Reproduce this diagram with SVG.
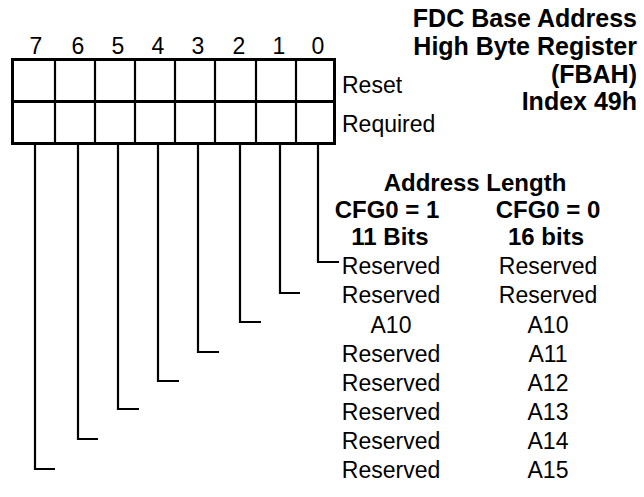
<svg xmlns="http://www.w3.org/2000/svg" width="644" height="497" viewBox="0 0 644 497">
<style>
text{font-family:"Liberation Sans",Arial,sans-serif;font-size:23px;fill:#000}
.b{font-weight:bold;font-size:24px}
.t{font-size:25px}
.m{text-anchor:middle}
.e{text-anchor:end}
.box{fill:none;stroke:#000;stroke-width:3}
.div{stroke:#000;stroke-width:2.2}
.con{fill:none;stroke:#000;stroke-width:2.2}
</style>
<rect width="644" height="497" fill="#fff"/>
<g id="title">
<text class="b t e" x="637" y="27">FDC Base Address</text>
<text class="b t e" x="637" y="55">High Byte Register</text>
<text class="b t e" x="637" y="83">(FBAH)</text>
<text class="b t e" x="637" y="110">Index 49h</text>
</g>
<g id="bitnumbers">
<text class="m" x="36" y="54">7</text>
<text class="m" x="78" y="54">6</text>
<text class="m" x="118" y="54">5</text>
<text class="m" x="158" y="54">4</text>
<text class="m" x="198" y="54">3</text>
<text class="m" x="239" y="54">2</text>
<text class="m" x="279" y="54">1</text>
<text class="m" x="318" y="54">0</text>
</g>
<g id="register">
<rect class="box" x="12.5" y="59.5" width="322" height="84"/>
<line class="box" x1="12.5" y1="101.5" x2="334.5" y2="101.5"/>
<line class="div" x1="55" y1="59.5" x2="55" y2="143.5"/>
<line class="div" x1="95" y1="59.5" x2="95" y2="143.5"/>
<line class="div" x1="135" y1="59.5" x2="135" y2="143.5"/>
<line class="div" x1="175" y1="59.5" x2="175" y2="143.5"/>
<line class="div" x1="215" y1="59.5" x2="215" y2="143.5"/>
<line class="div" x1="256" y1="59.5" x2="256" y2="143.5"/>
<line class="div" x1="296" y1="59.5" x2="296" y2="143.5"/>
<text x="342" y="93">Reset</text>
<text x="342" y="132">Required</text>
</g>
<g id="connectors">
<polyline class="con" points="318,143 318,262 339,262"/>
<polyline class="con" points="280,143 280,293 300,293"/>
<polyline class="con" points="240,143 240,322 261,322"/>
<polyline class="con" points="198,143 198,352 219,352"/>
<polyline class="con" points="158,143 158,381 179,381"/>
<polyline class="con" points="118,143 118,409 139,409"/>
<polyline class="con" points="78,143 78,439 98,439"/>
<polyline class="con" points="35,143 35,469 55,469"/>
</g>
<g id="header">
<text class="b m" x="475" y="191">Address Length</text>
<text class="b m" x="387" y="218">CFG0 = 1</text>
<text class="b m" x="548" y="218">CFG0 = 0</text>
<text class="b m" x="390" y="245">11 Bits</text>
<text class="b m" x="546" y="245">16 bits</text>
</g>
<g id="rows">
<text class="m" x="391" y="274">Reserved</text><text class="m" x="548" y="274">Reserved</text>
<text class="m" x="391" y="303">Reserved</text><text class="m" x="548" y="303">Reserved</text>
<text class="m" x="391" y="333">A10</text><text class="m" x="548" y="333">A10</text>
<text class="m" x="391" y="362">Reserved</text><text class="m" x="548" y="362">A11</text>
<text class="m" x="391" y="391">Reserved</text><text class="m" x="548" y="391">A12</text>
<text class="m" x="391" y="420">Reserved</text><text class="m" x="548" y="420">A13</text>
<text class="m" x="391" y="449">Reserved</text><text class="m" x="548" y="449">A14</text>
<text class="m" x="391" y="478">Reserved</text><text class="m" x="548" y="478">A15</text>
</g>
</svg>
